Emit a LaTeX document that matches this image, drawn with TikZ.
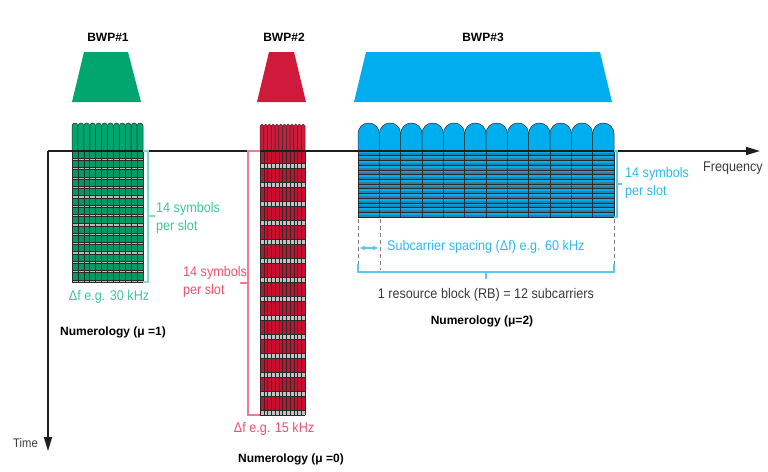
\documentclass[tikz,border=0pt]{standalone}
\usepackage{fontspec}
\setmainfont{Liberation Sans}
\newfontfamily\condf[FakeStretch=0.9]{Liberation Sans}
\usetikzlibrary{arrows.meta}
\definecolor{bwpgreen}{HTML}{00A66D}
\definecolor{gridgreen}{HTML}{009A62}
\definecolor{bwpred}{HTML}{D01A3C}
\definecolor{gridred}{HTML}{C8102E}
\definecolor{bwpblue}{HTML}{00AEEF}
\definecolor{bstripe}{HTML}{2E7FA8}
\definecolor{gtext}{HTML}{3CC79B}
\definecolor{rtext}{HTML}{F0506E}
\definecolor{btext}{HTML}{2FB8F0}
\definecolor{gbrk}{HTML}{7FDDBB}
\definecolor{rbrk}{HTML}{F47A90}
\definecolor{bbrk}{HTML}{5CC8F2}
\definecolor{axiscol}{HTML}{1E1E1E}
\definecolor{gridline}{HTML}{2A2A2A}
\definecolor{graystripe}{HTML}{A8A8A8}
\definecolor{txtgray}{HTML}{3A3A3A}

\newcommand{\archrow}[5]{% x0, w, n, fill, top
  \foreach \ii in {1,...,#3}{
    \pgfmathsetmacro{\xa}{#1+(\ii-1)*#2}
    \pgfmathsetmacro{\rr}{#2/2}
    \pgfmathsetmacro{\kk}{0.5523*\rr}
    \filldraw[fill=#4, draw=gridline, line width=0.5pt]
      (\xa,151) -- (\xa,#5+\rr)
      .. controls (\xa,#5+\rr-\kk) and (\xa+\rr-\kk,#5) .. (\xa+\rr,#5)
      .. controls (\xa+\rr+\kk,#5) and (\xa+2*\rr,#5+\rr-\kk) .. (\xa+2*\rr,#5+\rr)
      -- (\xa+2*\rr,151);
  }}

\begin{document}
\begin{tikzpicture}[x=1pt,y=-1pt,
  bwplbl/.style={font=\fontsize{12}{14}\selectfont\bfseries, inner sep=0},
  numlbl/.style={font=\fontsize{12}{14}\selectfont\bfseries, inner sep=0},
  ctxt/.style={font=\condf\fontsize{14}{18}\selectfont, inner sep=0, align=left},
  axisline/.style={draw=axiscol, line width=1.6pt, -{Triangle[length=14pt,width=8pt]}},
  vline/.style={gridline, line width=0.6pt},
  dashgray/.style={draw=gray, line width=0.9pt, dash pattern=on 4pt off 3pt}
]
\useasboundingbox (0,0) rectangle (768,471);

% ---------- BWP trapezoids ----------
\fill[bwpgreen] (84,52) -- (128,52) -- (141,102) -- (72,102) -- cycle;
\fill[bwpred] (269,52) -- (294,52) -- (306,102) -- (257,102) -- cycle;
\fill[bwpblue] (366,52) -- (600,52) -- (612,102) -- (354,102) -- cycle;
\node[bwplbl] (b1) at (108,37) {BWP\#1};
\node[bwplbl] (b2) at (284,37) {BWP\#2};
\node[bwplbl] (b3) at (483,37) {BWP\#3};

% ---------- green grid (mu=1) ----------
\archrow{72}{5.917}{12}{bwpgreen}{123}
\fill[gridgreen] (72,151) rectangle (143,282);
\foreach \k in {0,...,13}{
  \fill[graystripe!80!white] (72,{151+(\k+1)*9.357-2.2}) rectangle (143,{151+(\k+1)*9.357});
  \draw[vline, line width=0.5pt] (72,{151+(\k+1)*9.357-2.2}) -- (143,{151+(\k+1)*9.357-2.2});
  \draw[vline, line width=0.5pt] (72,{151+(\k+1)*9.357}) -- (143,{151+(\k+1)*9.357});
}
\foreach \i in {0,...,12}{ \draw[vline] ({72+\i*5.917},151) -- ({72+\i*5.917},282); }

% ---------- red grid (mu=0) ----------
\archrow{260}{3.75}{12}{bwpred}{124}
\foreach \k in {0,...,13}{
  \fill[gridred] (260,{150+19*\k}) rectangle (305,{163+19*\k});
  \fill[graystripe!70!white] (260,{163+19*\k}) rectangle (305,{168+19*\k});
  \draw[vline] (260,{163+19*\k}) -- (305,{163+19*\k});
  \draw[vline] (260,{168+19*\k}) -- (305,{168+19*\k});
}
\foreach \i in {0,...,12}{ \draw[vline, line width=0.5pt] ({260+\i*3.75},151) -- ({260+\i*3.75},415); }

% ---------- blue grid (mu=2) ----------
\archrow{358}{21.333}{12}{bwpblue}{123}
\fill[bwpblue] (358,151) rectangle (614,217);
\foreach \k in {0,...,13}{
  \fill[bstripe] (358,{151+\k*4.714+2.4}) rectangle (614,{151+(\k+1)*4.714});
  \draw[vline] (358,{151+(\k+1)*4.714}) -- (614,{151+(\k+1)*4.714});
}
\foreach \i in {0,...,12}{ \draw[gridline, line width=1pt] ({358+\i*21.333},151) -- ({358+\i*21.333},217); }

% ---------- axes ----------
\coordinate (origin) at (48,151);
\coordinate (fend) at (760,151);
\coordinate (tend) at (48,451);
\draw[axisline] (origin) -- (fend);
\draw[axisline] (origin) -- (tend);
\node[font=\condf\fontsize{14}{16}\selectfont, text=txtgray, inner sep=0, anchor=west] (freq) at (703,168) {Frequency};
\node[font=\condf\fontsize{12.5}{14}\selectfont, text=txtgray, inner sep=0, anchor=west] (time) at (13,443) {Time};

% ---------- green annotations ----------
\draw[gbrk, line width=1.2pt] (143,151) -- (148,151) -- (148,282) -- (143,282);
\draw[gbrk, line width=1.2pt] (148,216) -- (155,216);
\node[ctxt, text=gtext, anchor=west] (g14) at (156,218) {14 symbols\\per slot};
\node[ctxt, text=gtext] (gdf) at (109,297) {Δf e.g. 30 kHz};
\node[numlbl] (n1) at (113,332) {Numerology (μ =1)};

% ---------- red annotations ----------
\draw[rbrk, line width=1.2pt] (260,151) -- (248,151) -- (248,415) -- (260,415);
\draw[rbrk, line width=1.2pt] (248,283) -- (240,283);
\node[ctxt, text=rtext, anchor=west] (r14) at (183,282) {14 symbols\\per slot};
\node[ctxt, text=rtext] (rdf) at (274,429) {Δf e.g. 15 kHz};
\node[numlbl] (n0) at (291,459) {Numerology (μ =0)};

% ---------- blue annotations ----------
\draw[bbrk, line width=1.2pt] (614,151) -- (617,151) -- (617,217) -- (614,217);
\draw[bbrk, line width=1.2pt] (617,184) -- (622,184);
\node[ctxt, text=btext, anchor=west] (b14) at (625,183) {14 symbols\\per slot};
\draw[dashgray] (358,219) -- (358,266);
\draw[dashgray] (380,219) -- (380,270);
\draw[dashgray] (614,219) -- (614,266);
\draw[bbrk, line width=1.2pt] (358,264) -- (358,272) -- (614,272) -- (614,264);
\draw[bbrk, line width=1.2pt] (486,272) -- (486,279);
\coordinate (scl) at (359,248);
\coordinate (scr) at (379,248);
\draw[bbrk, line width=1.2pt, {Latex[length=6pt,width=5pt]}-{Latex[length=6pt,width=5pt]}] (scl) -- (scr);
\node[ctxt, text=btext, anchor=west] (scs) at (387,247) {Subcarrier spacing (Δf) e.g. 60 kHz};
\node[ctxt, text=txtgray] (rb) at (486,295) {1 resource block (RB) = 12 subcarriers};
\node[numlbl] (n2) at (482,321) {Numerology (μ=2)};
\end{tikzpicture}
\end{document}
